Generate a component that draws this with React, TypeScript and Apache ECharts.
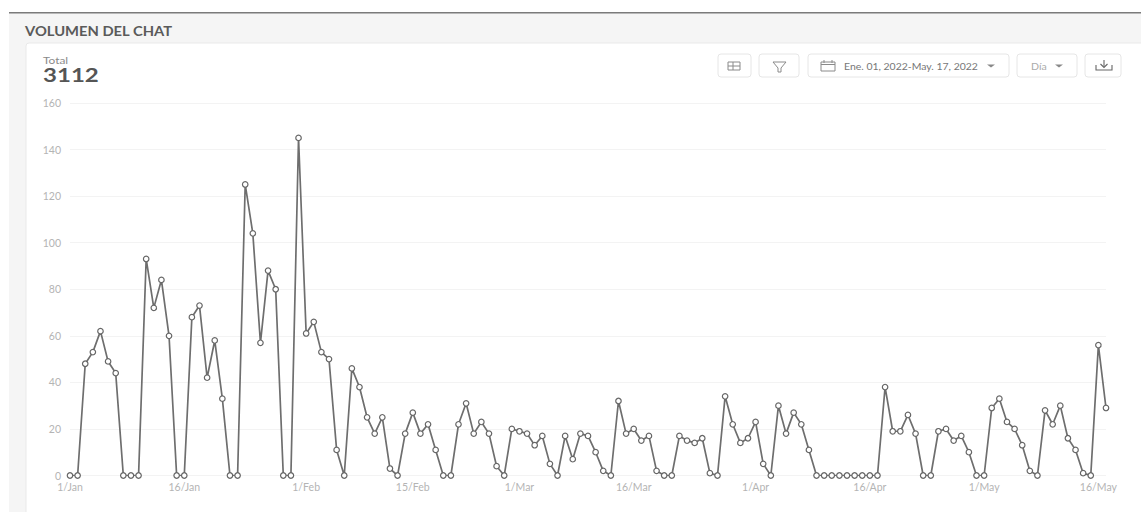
import React, { useEffect, useRef } from "react";
import * as echarts from "echarts";

const monthNames = ["Jan", "Feb", "Mar", "Apr", "May"];
const monthDays = [31, 28, 31, 30, 17];
const dayLabels = monthNames.flatMap((name, m) =>
  Array.from({ length: monthDays[m] }, (_, d) => `${d + 1}/${name}`)
);
const chatVolume = [
  0, 0, 48, 53, 62, 49, 44, 0, 0, 0, 93, 72, 84, 60, 0, 0, 68, 73, 42, 58, 33, 0, 0,
  125, 104, 57, 88, 80, 0, 0, 145, 61, 66, 53, 50, 11, 0, 46, 38, 25, 18, 25, 3, 0,
  18, 27, 18, 22, 11, 0, 0, 22, 31, 18, 23, 18, 4, 0, 20, 19, 18, 13, 17, 5, 0, 17,
  7, 18, 17, 10, 2, 0, 32, 18, 20, 15, 17, 2, 0, 0, 17, 15, 14, 16, 1, 0, 34, 22, 14,
  16, 23, 5, 0, 30, 18, 27, 22, 11, 0, 0, 0, 0, 0, 0, 0, 0, 0, 38, 19, 19, 26, 18, 0,
  0, 19, 20, 15, 17, 10, 0, 0, 29, 33, 23, 20, 13, 2, 0, 28, 22, 30, 16, 11, 1, 0, 56, 29,
];
const xTickLabels = [
  "1/Jan", "16/Jan", "1/Feb", "15/Feb", "1/Mar", "16/Mar", "1/Apr", "16/Apr", "1/May", "16/May",
];
const panelTitle = "VOLUMEN DEL CHAT";
const totalLabel = "Total";
const totalValue = "3112";
const dateRange = "Ene. 01, 2022-May. 17, 2022";
const granularity = "Día";

const FONT = "Lato, 'Open Sans', sans-serif";
const BORDER = "#e6e6e6";
const ICON = "#8a8a8a";

// Outlined toolbar button
const button = (x: number, width: number) => ({
  type: "rect",
  z: -1,
  shape: { x, y: 54, width, height: 23, r: 3 },
  style: { fill: "#fff", stroke: BORDER, lineWidth: 1 },
});
const stroke = (color = ICON, lineWidth = 1) => ({ fill: "none", stroke: color, lineWidth });
const line = (x1: number, y1: number, x2: number, y2: number, color = ICON, w = 1) => ({
  type: "line",
  shape: { x1, y1, x2, y2 },
  style: stroke(color, w),
});
const caret = (cx: number, cy: number, color = "#888") => ({
  type: "polygon",
  shape: { points: [[cx - 4, cy - 1.5], [cx + 4, cy - 1.5], [cx, cy + 1.5]] },
  style: { fill: color },
});

const chrome = [
  // page frame and white card
  { type: "rect", z: -3, shape: { x: 9, y: 12, width: 1132, height: 500 }, style: { fill: "#f5f5f5" } },
  { type: "rect", z: -3, shape: { x: 9, y: 12, width: 1132, height: 1.4 }, style: { fill: "#7b7b7b" } },
  {
    type: "rect",
    z: -2,
    shape: { x: 26, y: 43, width: 1130, height: 480, r: 3 },
    style: { fill: "#fff", stroke: "#e9e9e9", lineWidth: 1 },
  },
  // headings
  {
    type: "text",
    x: 25,
    y: 31,
    scaleX: 1.18,
    style: { text: panelTitle, font: `bold 12.5px ${FONT}`, fill: "#5a5a5a", textVerticalAlign: "middle" },
  },
  {
    type: "text",
    x: 43,
    y: 60,
    scaleX: 1.25,
    style: { text: totalLabel, font: `9.5px ${FONT}`, fill: "#8a8a8a", textVerticalAlign: "middle" },
  },
  {
    type: "text",
    x: 43,
    y: 75,
    scaleX: 1.3,
    style: { text: totalValue, font: `bold 18.5px ${FONT}`, fill: "#555", textVerticalAlign: "middle" },
  },
  // toolbar
  button(718, 33),
  button(759, 40),
  button(808, 201),
  button(1017, 60),
  button(1085, 36),
  // table icon
  { type: "rect", shape: { x: 728, y: 62, width: 12, height: 8 }, style: stroke() },
  line(728, 66, 740, 66),
  line(733, 62, 733, 70),
  // filter icon
  { type: "polygon", shape: { points: [[773, 62], [786, 62], [781, 68], [781, 72], [778, 72], [778, 68]] }, style: stroke() },
  // calendar icon
  { type: "rect", shape: { x: 821, y: 62, width: 14, height: 9 }, style: stroke() },
  line(821, 64.5, 835, 64.5),
  line(824, 60, 824, 63),
  line(832, 60, 832, 63),
  {
    type: "text",
    x: 844,
    y: 66,
    scaleX: 1.09,
    style: { text: dateRange, font: `9.6px ${FONT}`, fill: "#777", textVerticalAlign: "middle" },
  },
  caret(991, 66),
  {
    type: "text",
    x: 1031,
    y: 66,
    scaleX: 1.1,
    style: { text: granularity, font: `9.6px ${FONT}`, fill: "#aaa", textVerticalAlign: "middle" },
  },
  caret(1059, 66),
  // download icon
  { type: "polyline", shape: { points: [[1096, 65], [1096, 70], [1112, 70], [1112, 65]] }, style: stroke("#666", 1.1) },
  line(1104, 60, 1104, 67, "#666", 1.1),
  { type: "polyline", shape: { points: [[1100.5, 64], [1104, 67.5], [1107.5, 64]] }, style: stroke("#666", 1.1) },
];

export default function App() {
  const ref = useRef<HTMLDivElement>(null);

  useEffect(() => {
    const chart = echarts.init(ref.current!, null, { renderer: "svg" });
    chart.setOption({
      animation: false,
      backgroundColor: "#fff",
      graphic: { elements: chrome },
      grid: { left: 70, right: 35, top: 103, height: 372.5, containLabel: false },
      xAxis: {
        type: "category",
        data: dayLabels,
        boundaryGap: false,
        axisLine: { show: false },
        axisTick: { show: false },
        axisLabel: {
          interval: (_: number, label: string) => xTickLabels.includes(label),
          color: "#b4b4b4",
          fontFamily: FONT,
          fontSize: 10.5,
          margin: 6,
        },
      },
      yAxis: {
        type: "value",
        min: 0,
        max: 160,
        interval: 20,
        axisLine: { show: false },
        axisTick: { show: false },
        axisLabel: { color: "#b4b4b4", fontFamily: FONT, fontSize: 10.5, margin: 9 },
        splitLine: { lineStyle: { color: "#f3f3f3", width: 1 } },
      },
      series: [
        {
          type: "line",
          data: chatVolume,
          symbol: "circle",
          symbolSize: 5.5,
          showAllSymbol: true,
          lineStyle: { color: "#6e6e6e", width: 1.7 },
          itemStyle: { color: "#fff", borderColor: "#666", borderWidth: 1.2 },
        },
      ],
    });
    return () => chart.dispose();
  }, []);

  return <div ref={ref} style={{ position: "absolute", left: 0, top: 0, width: 1141, height: 512 }} />;
}
